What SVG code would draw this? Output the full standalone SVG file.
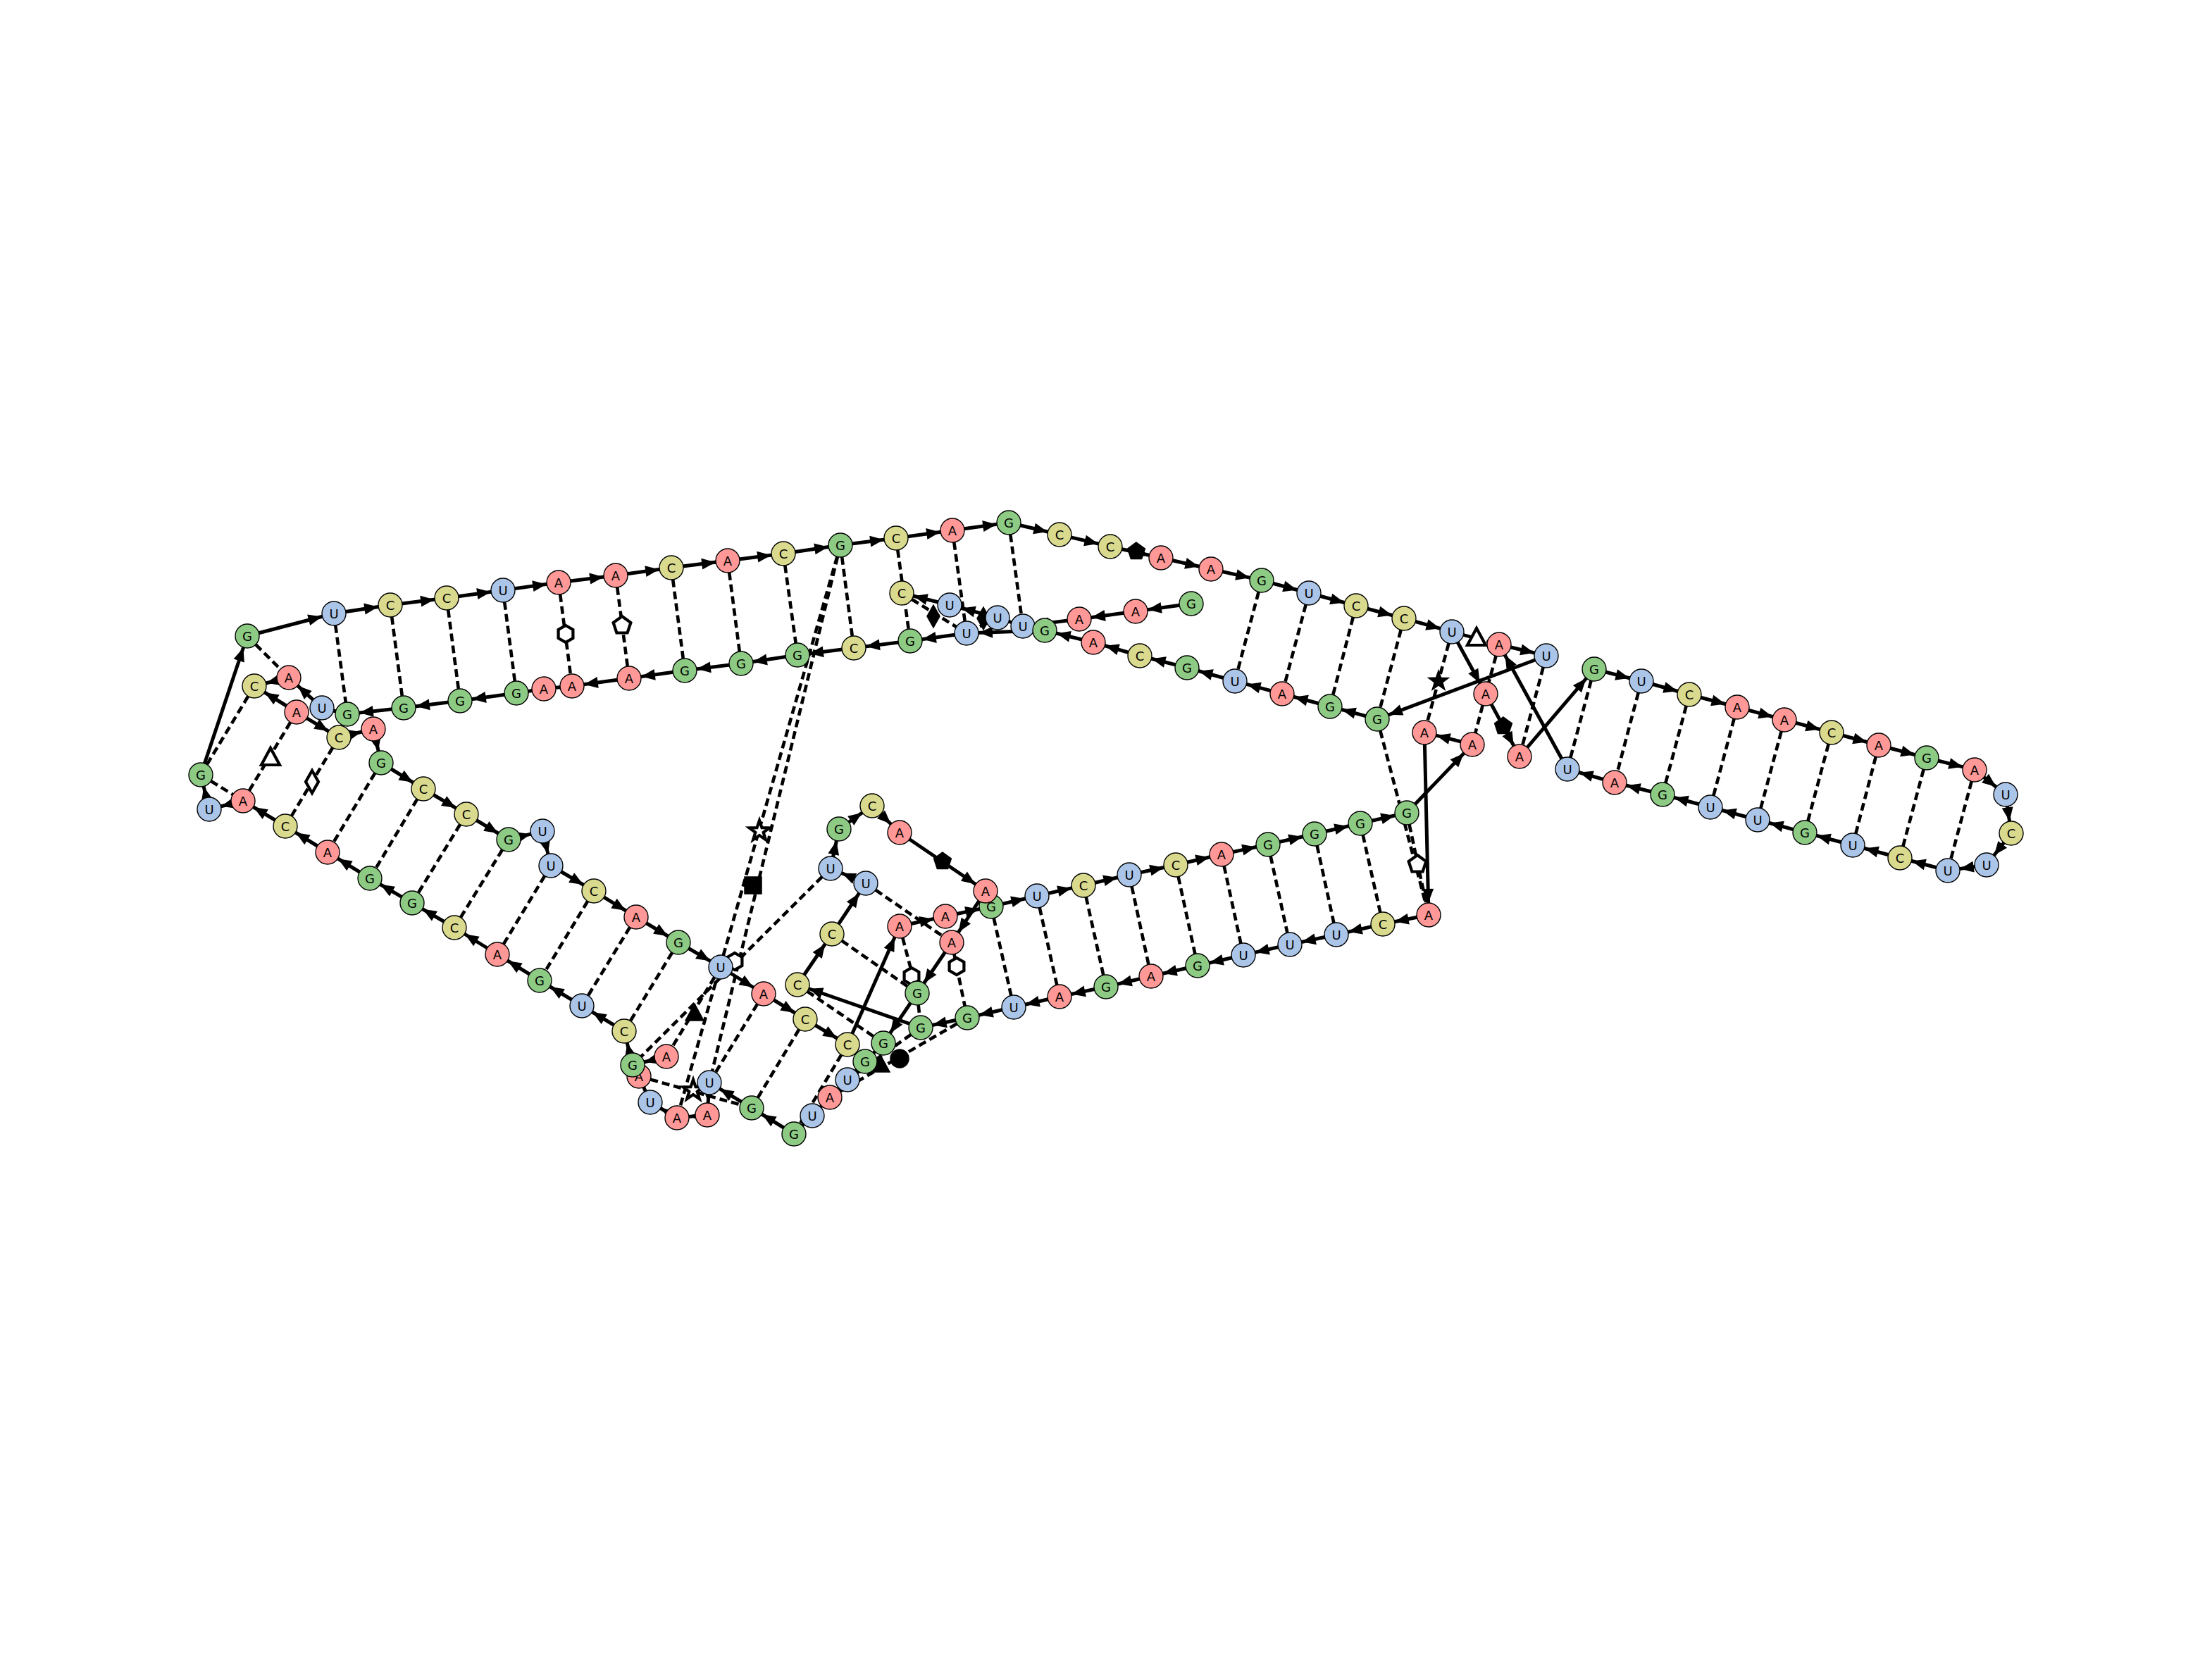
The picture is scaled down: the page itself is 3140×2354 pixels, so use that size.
<svg xmlns="http://www.w3.org/2000/svg" xmlns:xlink="http://www.w3.org/1999/xlink" width="3140" height="2354" viewBox="0 0 3140 2354">
<style>
.bb{stroke:#000;stroke-width:5;fill:none}
.bp{stroke:#000;stroke-width:4.6;stroke-dasharray:11 6;fill:none}
.open{fill:#fff;stroke:#000;stroke-width:4.2}
.solid{fill:#000;stroke:#000;stroke-width:1.5}
.node circle{stroke:#000;stroke-width:1.4}
.A circle{fill:#ff9896}
.C circle{fill:#dada8e}
.G circle{fill:#8dcb84}
.U circle{fill:#aac5e8}
.node text{font-family:"DejaVu Sans","Liberation Sans",sans-serif;font-size:18px;text-anchor:middle;dominant-baseline:central;fill:#000}
</style>
<defs>
<marker id="ah" markerUnits="userSpaceOnUse" markerWidth="60" markerHeight="30" viewBox="-50 -15 60 30" refX="0" refY="0" orient="auto" overflow="visible"><path d="M-37,-8 L-17.5,0 L-37,8 Z" fill="#000"/></marker>
<polygon id="hex" points="0,-12 10.4,-6 10.4,6 0,12 -10.4,6 -10.4,-6"/>
<polygon id="pent" points="0,-13 12.4,-4 7.6,10.5 -7.6,10.5 -12.4,-4"/>
<polygon id="tri" points="0,-15 13,9 -13,9"/>
<polygon id="dia" points="0,-16 9,0 0,16 -9,0"/>
<polygon id="star" points="0,-15 3.53,-4.85 14.27,-4.64 5.71,1.85 8.82,12.14 0,6 -8.82,12.14 -5.71,1.85 -14.27,-4.64 -3.53,-4.85"/>
<rect id="sq" x="-12" y="-12" width="24" height="24"/>
<circle id="dot" r="13"/>
</defs>
<rect width="3140" height="2354" fill="#fff"/>
<g id="connectors">
<g id="backbone">
<line class="bb" x1="351" y1="903" x2="474" y2="871" marker-end="url(#ah)"/>
<line class="bb" x1="474" y1="871" x2="554" y2="859" marker-end="url(#ah)"/>
<line class="bb" x1="554" y1="859" x2="634" y2="849" marker-end="url(#ah)"/>
<line class="bb" x1="634" y1="849" x2="714" y2="838" marker-end="url(#ah)"/>
<line class="bb" x1="714" y1="838" x2="793" y2="827" marker-end="url(#ah)"/>
<line class="bb" x1="793" y1="827" x2="874" y2="817" marker-end="url(#ah)"/>
<line class="bb" x1="874" y1="817" x2="953" y2="806" marker-end="url(#ah)"/>
<line class="bb" x1="953" y1="806" x2="1033" y2="796" marker-end="url(#ah)"/>
<line class="bb" x1="1033" y1="796" x2="1112" y2="786" marker-end="url(#ah)"/>
<line class="bb" x1="1112" y1="786" x2="1193" y2="774" marker-end="url(#ah)"/>
<line class="bb" x1="1193" y1="774" x2="1272" y2="764" marker-end="url(#ah)"/>
<line class="bb" x1="1272" y1="764" x2="1352" y2="753" marker-end="url(#ah)"/>
<line class="bb" x1="1352" y1="753" x2="1432" y2="742" marker-end="url(#ah)"/>
<line class="bb" x1="1432" y1="742" x2="1504" y2="759" marker-end="url(#ah)"/>
<line class="bb" x1="1504" y1="759" x2="1576" y2="776" marker-end="url(#ah)"/>
<line class="bb" x1="1576" y1="776" x2="1648" y2="792" marker-end="url(#ah)"/>
<line class="bb" x1="1648" y1="792" x2="1719" y2="808" marker-end="url(#ah)"/>
<line class="bb" x1="1719" y1="808" x2="1791" y2="824" marker-end="url(#ah)"/>
<line class="bb" x1="1791" y1="824" x2="1858" y2="842" marker-end="url(#ah)"/>
<line class="bb" x1="1858" y1="842" x2="1925" y2="860" marker-end="url(#ah)"/>
<line class="bb" x1="1925" y1="860" x2="1993" y2="878" marker-end="url(#ah)"/>
<line class="bb" x1="1993" y1="878" x2="2061" y2="897" marker-end="url(#ah)"/>
<line class="bb" x1="2061" y1="897" x2="2109" y2="985" marker-end="url(#ah)"/>
<line class="bb" x1="2109" y1="985" x2="2157" y2="1074" marker-end="url(#ah)"/>
<line class="bb" x1="2157" y1="1074" x2="2263" y2="950" marker-end="url(#ah)"/>
<line class="bb" x1="2263" y1="950" x2="2330" y2="967" marker-end="url(#ah)"/>
<line class="bb" x1="2330" y1="967" x2="2398" y2="986" marker-end="url(#ah)"/>
<line class="bb" x1="2398" y1="986" x2="2466" y2="1004" marker-end="url(#ah)"/>
<line class="bb" x1="2466" y1="1004" x2="2533" y2="1022" marker-end="url(#ah)"/>
<line class="bb" x1="2533" y1="1022" x2="2600" y2="1040" marker-end="url(#ah)"/>
<line class="bb" x1="2600" y1="1040" x2="2667" y2="1058" marker-end="url(#ah)"/>
<line class="bb" x1="2667" y1="1058" x2="2735" y2="1076" marker-end="url(#ah)"/>
<line class="bb" x1="2735" y1="1076" x2="2803" y2="1093" marker-end="url(#ah)"/>
<line class="bb" x1="2803" y1="1093" x2="2847" y2="1128" marker-end="url(#ah)"/>
<line class="bb" x1="2847" y1="1128" x2="2855" y2="1183" marker-end="url(#ah)"/>
<line class="bb" x1="2855" y1="1183" x2="2820" y2="1228" marker-end="url(#ah)"/>
<line class="bb" x1="2820" y1="1228" x2="2765" y2="1236" marker-end="url(#ah)"/>
<line class="bb" x1="2765" y1="1236" x2="2697" y2="1218" marker-end="url(#ah)"/>
<line class="bb" x1="2697" y1="1218" x2="2630" y2="1200" marker-end="url(#ah)"/>
<line class="bb" x1="2630" y1="1200" x2="2562" y2="1182" marker-end="url(#ah)"/>
<line class="bb" x1="2562" y1="1182" x2="2495" y2="1164" marker-end="url(#ah)"/>
<line class="bb" x1="2495" y1="1164" x2="2428" y2="1146" marker-end="url(#ah)"/>
<line class="bb" x1="2428" y1="1146" x2="2360" y2="1128" marker-end="url(#ah)"/>
<line class="bb" x1="2360" y1="1128" x2="2292" y2="1111" marker-end="url(#ah)"/>
<line class="bb" x1="2292" y1="1111" x2="2225" y2="1092" marker-end="url(#ah)"/>
<line class="bb" x1="2225" y1="1092" x2="2128" y2="915" marker-end="url(#ah)"/>
<line class="bb" x1="2128" y1="915" x2="2195" y2="931" marker-end="url(#ah)"/>
<line class="bb" x1="2195" y1="931" x2="1955" y2="1021" marker-end="url(#ah)"/>
<line class="bb" x1="1955" y1="1021" x2="1888" y2="1003" marker-end="url(#ah)"/>
<line class="bb" x1="1888" y1="1003" x2="1820" y2="985" marker-end="url(#ah)"/>
<line class="bb" x1="1820" y1="985" x2="1753" y2="967" marker-end="url(#ah)"/>
<line class="bb" x1="1753" y1="967" x2="1685" y2="948" marker-end="url(#ah)"/>
<line class="bb" x1="1685" y1="948" x2="1618" y2="931" marker-end="url(#ah)"/>
<line class="bb" x1="1618" y1="931" x2="1552" y2="912" marker-end="url(#ah)"/>
<line class="bb" x1="1552" y1="912" x2="1483" y2="895" marker-end="url(#ah)"/>
<line class="bb" x1="1483" y1="895" x2="1372" y2="899" marker-end="url(#ah)"/>
<line class="bb" x1="1372" y1="899" x2="1292" y2="910" marker-end="url(#ah)"/>
<line class="bb" x1="1292" y1="910" x2="1212" y2="920" marker-end="url(#ah)"/>
<line class="bb" x1="1212" y1="920" x2="1132" y2="930" marker-end="url(#ah)"/>
<line class="bb" x1="1132" y1="930" x2="1052" y2="942" marker-end="url(#ah)"/>
<line class="bb" x1="1052" y1="942" x2="972" y2="952" marker-end="url(#ah)"/>
<line class="bb" x1="972" y1="952" x2="893" y2="963" marker-end="url(#ah)"/>
<line class="bb" x1="893" y1="963" x2="812" y2="974" marker-end="url(#ah)"/>
<line class="bb" x1="812" y1="974" x2="772" y2="978" marker-end="url(#ah)"/>
<line class="bb" x1="772" y1="978" x2="733" y2="984" marker-end="url(#ah)"/>
<line class="bb" x1="733" y1="984" x2="653" y2="995" marker-end="url(#ah)"/>
<line class="bb" x1="653" y1="995" x2="573" y2="1005" marker-end="url(#ah)"/>
<line class="bb" x1="573" y1="1005" x2="493" y2="1014" marker-end="url(#ah)"/>
<line class="bb" x1="493" y1="1014" x2="457" y2="1005" marker-end="url(#ah)"/>
<line class="bb" x1="457" y1="1005" x2="410" y2="962" marker-end="url(#ah)"/>
<line class="bb" x1="410" y1="962" x2="361" y2="974" marker-end="url(#ah)"/>
<line class="bb" x1="421" y1="1011" x2="361" y2="974" marker-end="url(#ah)"/>
<line class="bb" x1="421" y1="1011" x2="481" y2="1047" marker-end="url(#ah)"/>
<line class="bb" x1="481" y1="1047" x2="530" y2="1035" marker-end="url(#ah)"/>
<line class="bb" x1="530" y1="1035" x2="541" y2="1083" marker-end="url(#ah)"/>
<line class="bb" x1="541" y1="1083" x2="601" y2="1120" marker-end="url(#ah)"/>
<line class="bb" x1="601" y1="1120" x2="662" y2="1156" marker-end="url(#ah)"/>
<line class="bb" x1="662" y1="1156" x2="722" y2="1192" marker-end="url(#ah)"/>
<line class="bb" x1="722" y1="1192" x2="770" y2="1180" marker-end="url(#ah)"/>
<line class="bb" x1="770" y1="1180" x2="782" y2="1229" marker-end="url(#ah)"/>
<line class="bb" x1="782" y1="1229" x2="843" y2="1265" marker-end="url(#ah)"/>
<line class="bb" x1="843" y1="1265" x2="903" y2="1302" marker-end="url(#ah)"/>
<line class="bb" x1="903" y1="1302" x2="963" y2="1338" marker-end="url(#ah)"/>
<line class="bb" x1="963" y1="1338" x2="1023" y2="1373" marker-end="url(#ah)"/>
<line class="bb" x1="1023" y1="1373" x2="1084" y2="1411" marker-end="url(#ah)"/>
<line class="bb" x1="1084" y1="1411" x2="1143" y2="1447" marker-end="url(#ah)"/>
<line class="bb" x1="1143" y1="1447" x2="1203" y2="1483" marker-end="url(#ah)"/>
<line class="bb" x1="1203" y1="1483" x2="1277" y2="1315" marker-end="url(#ah)"/>
<line class="bb" x1="1277" y1="1315" x2="1342" y2="1301" marker-end="url(#ah)"/>
<line class="bb" x1="1342" y1="1301" x2="1407" y2="1287" marker-end="url(#ah)"/>
<line class="bb" x1="1407" y1="1287" x2="1472" y2="1272" marker-end="url(#ah)"/>
<line class="bb" x1="1472" y1="1272" x2="1538" y2="1257" marker-end="url(#ah)"/>
<line class="bb" x1="1538" y1="1257" x2="1603" y2="1242" marker-end="url(#ah)"/>
<line class="bb" x1="1603" y1="1242" x2="1669" y2="1228" marker-end="url(#ah)"/>
<line class="bb" x1="1669" y1="1228" x2="1734" y2="1213" marker-end="url(#ah)"/>
<line class="bb" x1="1734" y1="1213" x2="1800" y2="1199" marker-end="url(#ah)"/>
<line class="bb" x1="1800" y1="1199" x2="1866" y2="1184" marker-end="url(#ah)"/>
<line class="bb" x1="1866" y1="1184" x2="1931" y2="1169" marker-end="url(#ah)"/>
<line class="bb" x1="1931" y1="1169" x2="1997" y2="1154" marker-end="url(#ah)"/>
<line class="bb" x1="1997" y1="1154" x2="2090" y2="1057" marker-end="url(#ah)"/>
<line class="bb" x1="2090" y1="1057" x2="2022" y2="1040" marker-end="url(#ah)"/>
<line class="bb" x1="2022" y1="1040" x2="2028" y2="1299" marker-end="url(#ah)"/>
<line class="bb" x1="2028" y1="1299" x2="1963" y2="1312" marker-end="url(#ah)"/>
<line class="bb" x1="1963" y1="1312" x2="1897" y2="1327" marker-end="url(#ah)"/>
<line class="bb" x1="1897" y1="1327" x2="1831" y2="1341" marker-end="url(#ah)"/>
<line class="bb" x1="1831" y1="1341" x2="1765" y2="1356" marker-end="url(#ah)"/>
<line class="bb" x1="1765" y1="1356" x2="1700" y2="1371" marker-end="url(#ah)"/>
<line class="bb" x1="1700" y1="1371" x2="1634" y2="1386" marker-end="url(#ah)"/>
<line class="bb" x1="1634" y1="1386" x2="1570" y2="1401" marker-end="url(#ah)"/>
<line class="bb" x1="1570" y1="1401" x2="1504" y2="1415" marker-end="url(#ah)"/>
<line class="bb" x1="1504" y1="1415" x2="1439" y2="1430" marker-end="url(#ah)"/>
<line class="bb" x1="1439" y1="1430" x2="1373" y2="1445" marker-end="url(#ah)"/>
<line class="bb" x1="1373" y1="1445" x2="1307" y2="1459" marker-end="url(#ah)"/>
<line class="bb" x1="1307" y1="1459" x2="1132" y2="1398" marker-end="url(#ah)"/>
<line class="bb" x1="1132" y1="1398" x2="1181" y2="1326" marker-end="url(#ah)"/>
<line class="bb" x1="1181" y1="1326" x2="1229" y2="1254" marker-end="url(#ah)"/>
<line class="bb" x1="1229" y1="1254" x2="1179" y2="1233" marker-end="url(#ah)"/>
<line class="bb" x1="1179" y1="1233" x2="1191" y2="1177" marker-end="url(#ah)"/>
<line class="bb" x1="1191" y1="1177" x2="1238" y2="1144" marker-end="url(#ah)"/>
<line class="bb" x1="1238" y1="1144" x2="1277" y2="1182" marker-end="url(#ah)"/>
<line class="bb" x1="1277" y1="1182" x2="1399" y2="1265" marker-end="url(#ah)"/>
<line class="bb" x1="1399" y1="1265" x2="1351" y2="1338" marker-end="url(#ah)"/>
<line class="bb" x1="1351" y1="1338" x2="1302" y2="1410" marker-end="url(#ah)"/>
<line class="bb" x1="1302" y1="1410" x2="1254" y2="1481" marker-end="url(#ah)"/>
<line class="bb" x1="1254" y1="1481" x2="1228" y2="1507" marker-end="url(#ah)"/>
<line class="bb" x1="1228" y1="1507" x2="1203" y2="1533" marker-end="url(#ah)"/>
<line class="bb" x1="1203" y1="1533" x2="1178" y2="1558" marker-end="url(#ah)"/>
<line class="bb" x1="1178" y1="1558" x2="1153" y2="1584" marker-end="url(#ah)"/>
<line class="bb" x1="1153" y1="1584" x2="1127" y2="1610" marker-end="url(#ah)"/>
<line class="bb" x1="1127" y1="1610" x2="1067" y2="1573" marker-end="url(#ah)"/>
<line class="bb" x1="1067" y1="1573" x2="1007" y2="1537" marker-end="url(#ah)"/>
<line class="bb" x1="1007" y1="1537" x2="1004" y2="1583" marker-end="url(#ah)"/>
<line class="bb" x1="1004" y1="1583" x2="961" y2="1587" marker-end="url(#ah)"/>
<line class="bb" x1="961" y1="1587" x2="923" y2="1565" marker-end="url(#ah)"/>
<line class="bb" x1="923" y1="1565" x2="907" y2="1528" marker-end="url(#ah)"/>
<line class="bb" x1="946" y1="1500" x2="898" y2="1512" marker-end="url(#ah)"/>
<line class="bb" x1="898" y1="1512" x2="886" y2="1464" marker-end="url(#ah)"/>
<line class="bb" x1="886" y1="1464" x2="826" y2="1428" marker-end="url(#ah)"/>
<line class="bb" x1="826" y1="1428" x2="766" y2="1392" marker-end="url(#ah)"/>
<line class="bb" x1="766" y1="1392" x2="706" y2="1355" marker-end="url(#ah)"/>
<line class="bb" x1="706" y1="1355" x2="645" y2="1317" marker-end="url(#ah)"/>
<line class="bb" x1="645" y1="1317" x2="585" y2="1282" marker-end="url(#ah)"/>
<line class="bb" x1="585" y1="1282" x2="525" y2="1247" marker-end="url(#ah)"/>
<line class="bb" x1="525" y1="1247" x2="465" y2="1210" marker-end="url(#ah)"/>
<line class="bb" x1="465" y1="1210" x2="405" y2="1173" marker-end="url(#ah)"/>
<line class="bb" x1="405" y1="1173" x2="345" y2="1137" marker-end="url(#ah)"/>
<line class="bb" x1="345" y1="1137" x2="297" y2="1149" marker-end="url(#ah)"/>
<line class="bb" x1="297" y1="1149" x2="285" y2="1100" marker-end="url(#ah)"/>
<line class="bb" x1="285" y1="1100" x2="351" y2="903" marker-end="url(#ah)"/>
<line class="bb" x1="1691" y1="857" x2="1612" y2="868" marker-end="url(#ah)"/>
<line class="bb" x1="1612" y1="868" x2="1532" y2="879" marker-end="url(#ah)"/>
<line class="bb" x1="1532" y1="879" x2="1452" y2="889" marker-end="url(#ah)"/>
<line class="bb" x1="1452" y1="889" x2="1416" y2="877" marker-end="url(#ah)"/>
<line class="bb" x1="1416" y1="877" x2="1348" y2="859" marker-end="url(#ah)"/>
<line class="bb" x1="1348" y1="859" x2="1280" y2="842" marker-end="url(#ah)"/>
</g>
<g id="pairs">
<line class="bp" x1="351" y1="903" x2="410" y2="962"/>
<line class="bp" x1="474" y1="871" x2="493" y2="1014"/>
<line class="bp" x1="554" y1="859" x2="573" y2="1005"/>
<line class="bp" x1="634" y1="849" x2="653" y2="995"/>
<line class="bp" x1="714" y1="838" x2="733" y2="984"/>
<line class="bp" x1="793" y1="827" x2="812" y2="974"/>
<line class="bp" x1="874" y1="817" x2="893" y2="963"/>
<line class="bp" x1="953" y1="806" x2="972" y2="952"/>
<line class="bp" x1="1033" y1="796" x2="1052" y2="942"/>
<line class="bp" x1="1112" y1="786" x2="1132" y2="930"/>
<line class="bp" x1="1193" y1="774" x2="1212" y2="920"/>
<line class="bp" x1="1272" y1="764" x2="1292" y2="910"/>
<line class="bp" x1="1352" y1="753" x2="1372" y2="899"/>
<line class="bp" x1="1432" y1="742" x2="1452" y2="889"/>
<line class="bp" x1="1791" y1="824" x2="1753" y2="967"/>
<line class="bp" x1="1858" y1="842" x2="1820" y2="985"/>
<line class="bp" x1="1925" y1="860" x2="1888" y2="1003"/>
<line class="bp" x1="1993" y1="878" x2="1955" y2="1021"/>
<line class="bp" x1="2061" y1="897" x2="2022" y2="1040"/>
<line class="bp" x1="2061" y1="897" x2="2128" y2="915"/>
<line class="bp" x1="2128" y1="915" x2="2109" y2="985"/>
<line class="bp" x1="2109" y1="985" x2="2090" y2="1057"/>
<line class="bp" x1="2195" y1="931" x2="2157" y2="1074"/>
<line class="bp" x1="2263" y1="950" x2="2225" y2="1092"/>
<line class="bp" x1="2330" y1="967" x2="2292" y2="1111"/>
<line class="bp" x1="2398" y1="986" x2="2360" y2="1128"/>
<line class="bp" x1="2466" y1="1004" x2="2428" y2="1146"/>
<line class="bp" x1="2533" y1="1022" x2="2495" y2="1164"/>
<line class="bp" x1="2600" y1="1040" x2="2562" y2="1182"/>
<line class="bp" x1="2667" y1="1058" x2="2630" y2="1200"/>
<line class="bp" x1="2735" y1="1076" x2="2697" y2="1218"/>
<line class="bp" x1="2803" y1="1093" x2="2765" y2="1236"/>
<line class="bp" x1="1407" y1="1287" x2="1439" y2="1430"/>
<line class="bp" x1="1472" y1="1272" x2="1504" y2="1415"/>
<line class="bp" x1="1538" y1="1257" x2="1570" y2="1401"/>
<line class="bp" x1="1603" y1="1242" x2="1634" y2="1386"/>
<line class="bp" x1="1669" y1="1228" x2="1700" y2="1371"/>
<line class="bp" x1="1734" y1="1213" x2="1765" y2="1356"/>
<line class="bp" x1="1800" y1="1199" x2="1831" y2="1341"/>
<line class="bp" x1="1866" y1="1184" x2="1897" y2="1327"/>
<line class="bp" x1="1931" y1="1169" x2="1963" y2="1312"/>
<line class="bp" x1="1997" y1="1154" x2="2028" y2="1299"/>
<line class="bp" x1="1955" y1="1021" x2="2028" y2="1299"/>
<line class="bp" x1="1179" y1="1233" x2="898" y2="1512"/>
<line class="bp" x1="1229" y1="1254" x2="1351" y2="1338"/>
<line class="bp" x1="1181" y1="1326" x2="1302" y2="1410"/>
<line class="bp" x1="1277" y1="1315" x2="1302" y2="1410"/>
<line class="bp" x1="1351" y1="1338" x2="1373" y2="1445"/>
<line class="bp" x1="1302" y1="1410" x2="1307" y2="1459"/>
<line class="bp" x1="1132" y1="1398" x2="1254" y2="1481"/>
<line class="bp" x1="1373" y1="1445" x2="1178" y2="1558"/>
<line class="bp" x1="1307" y1="1459" x2="1203" y2="1533"/>
<line class="bp" x1="421" y1="1011" x2="345" y2="1137"/>
<line class="bp" x1="481" y1="1047" x2="405" y2="1173"/>
<line class="bp" x1="541" y1="1083" x2="465" y2="1210"/>
<line class="bp" x1="601" y1="1120" x2="525" y2="1247"/>
<line class="bp" x1="662" y1="1156" x2="585" y2="1282"/>
<line class="bp" x1="722" y1="1192" x2="645" y2="1317"/>
<line class="bp" x1="782" y1="1229" x2="706" y2="1355"/>
<line class="bp" x1="843" y1="1265" x2="766" y2="1392"/>
<line class="bp" x1="903" y1="1302" x2="826" y2="1428"/>
<line class="bp" x1="963" y1="1338" x2="886" y2="1464"/>
<line class="bp" x1="1023" y1="1373" x2="946" y2="1500"/>
<line class="bp" x1="1084" y1="1411" x2="1007" y2="1537"/>
<line class="bp" x1="1143" y1="1447" x2="1067" y2="1573"/>
<line class="bp" x1="1203" y1="1483" x2="1127" y2="1610"/>
<line class="bp" x1="361" y1="974" x2="285" y2="1100"/>
<line class="bp" x1="285" y1="1100" x2="345" y2="1137"/>
<line class="bp" x1="410" y1="962" x2="457" y2="1005"/>
<line class="bp" x1="1193" y1="774" x2="961" y2="1587"/>
<line class="bp" x1="1193" y1="774" x2="1007" y2="1537"/>
<line class="bp" x1="907" y1="1528" x2="1067" y2="1573"/>
<line class="bp" x1="1280" y1="842" x2="1372" y2="899"/>
<line class="bp" x1="1416" y1="877" x2="1372" y2="899"/>
</g>
<g id="edge-symbols">
<use href="#hex" x="803" y="900" class="open"/>
<use href="#pent" x="883" y="888" class="open"/>
<use href="#pent" x="1613" y="783" class="solid"/>
<use href="#dia" x="1325" y="875" class="solid"/>
<use href="#dia" x="1396" y="878" class="solid"/>
<use href="#tri" x="2096" y="907" class="open"/>
<use href="#star" x="2042" y="967" class="solid"/>
<use href="#pent" x="2134" y="1031" class="solid"/>
<use href="#pent" x="2012" y="1227" class="open"/>
<use href="#tri" x="384" y="1077" class="open"/>
<use href="#dia" x="443" y="1110" class="open"/>
<use href="#star" x="1078" y="1180" class="open"/>
<use href="#sq" x="1069" y="1257" class="solid"/>
<use href="#tri" x="986" y="1440" class="solid"/>
<use href="#hex" x="1043" y="1365" class="open"/>
<use href="#pent" x="1338" y="1223" class="solid"/>
<use href="#hex" x="1294" y="1386" class="open"/>
<use href="#hex" x="1358" y="1372" class="open"/>
<use href="#dot" x="1277" y="1503" class="solid"/>
<use href="#tri" x="1250" y="1513" class="solid"/>
<use href="#star" x="984" y="1548" class="open"/>
</g>
</g>
<g id="nodes">
<g id="t1" class="node G"><circle cx="351" cy="903" r="17"/><text x="351" y="903">G</text></g>
<g id="t2" class="node U"><circle cx="474" cy="871" r="17"/><text x="474" y="871">U</text></g>
<g id="t3" class="node C"><circle cx="554" cy="859" r="17"/><text x="554" y="859">C</text></g>
<g id="t4" class="node C"><circle cx="634" cy="849" r="17"/><text x="634" y="849">C</text></g>
<g id="t5" class="node U"><circle cx="714" cy="838" r="17"/><text x="714" y="838">U</text></g>
<g id="t6" class="node A"><circle cx="793" cy="827" r="17"/><text x="793" y="827">A</text></g>
<g id="t7" class="node A"><circle cx="874" cy="817" r="17"/><text x="874" y="817">A</text></g>
<g id="t8" class="node C"><circle cx="953" cy="806" r="17"/><text x="953" y="806">C</text></g>
<g id="t9" class="node A"><circle cx="1033" cy="796" r="17"/><text x="1033" y="796">A</text></g>
<g id="t10" class="node C"><circle cx="1112" cy="786" r="17"/><text x="1112" y="786">C</text></g>
<g id="t11" class="node G"><circle cx="1193" cy="774" r="17"/><text x="1193" y="774">G</text></g>
<g id="t12" class="node C"><circle cx="1272" cy="764" r="17"/><text x="1272" y="764">C</text></g>
<g id="t13" class="node A"><circle cx="1352" cy="753" r="17"/><text x="1352" y="753">A</text></g>
<g id="t14" class="node G"><circle cx="1432" cy="742" r="17"/><text x="1432" y="742">G</text></g>
<g id="t15" class="node C"><circle cx="1504" cy="759" r="17"/><text x="1504" y="759">C</text></g>
<g id="t16" class="node C"><circle cx="1576" cy="776" r="17"/><text x="1576" y="776">C</text></g>
<g id="t17" class="node A"><circle cx="1648" cy="792" r="17"/><text x="1648" y="792">A</text></g>
<g id="t18" class="node A"><circle cx="1719" cy="808" r="17"/><text x="1719" y="808">A</text></g>
<g id="t19" class="node G"><circle cx="1791" cy="824" r="17"/><text x="1791" y="824">G</text></g>
<g id="t20" class="node U"><circle cx="1858" cy="842" r="17"/><text x="1858" y="842">U</text></g>
<g id="t21" class="node C"><circle cx="1925" cy="860" r="17"/><text x="1925" y="860">C</text></g>
<g id="t22" class="node C"><circle cx="1993" cy="878" r="17"/><text x="1993" y="878">C</text></g>
<g id="t23" class="node U"><circle cx="2061" cy="897" r="17"/><text x="2061" y="897">U</text></g>
<g id="t24" class="node A"><circle cx="2109" cy="985" r="17"/><text x="2109" y="985">A</text></g>
<g id="t25" class="node A"><circle cx="2157" cy="1074" r="17"/><text x="2157" y="1074">A</text></g>
<g id="r1" class="node G"><circle cx="2263" cy="950" r="17"/><text x="2263" y="950">G</text></g>
<g id="r2" class="node U"><circle cx="2330" cy="967" r="17"/><text x="2330" y="967">U</text></g>
<g id="r3" class="node C"><circle cx="2398" cy="986" r="17"/><text x="2398" y="986">C</text></g>
<g id="r4" class="node A"><circle cx="2466" cy="1004" r="17"/><text x="2466" y="1004">A</text></g>
<g id="r5" class="node A"><circle cx="2533" cy="1022" r="17"/><text x="2533" y="1022">A</text></g>
<g id="r6" class="node C"><circle cx="2600" cy="1040" r="17"/><text x="2600" y="1040">C</text></g>
<g id="r7" class="node A"><circle cx="2667" cy="1058" r="17"/><text x="2667" y="1058">A</text></g>
<g id="r8" class="node G"><circle cx="2735" cy="1076" r="17"/><text x="2735" y="1076">G</text></g>
<g id="r9" class="node A"><circle cx="2803" cy="1093" r="17"/><text x="2803" y="1093">A</text></g>
<g id="r10" class="node U"><circle cx="2847" cy="1128" r="17"/><text x="2847" y="1128">U</text></g>
<g id="r11" class="node C"><circle cx="2855" cy="1183" r="17"/><text x="2855" y="1183">C</text></g>
<g id="r12" class="node U"><circle cx="2820" cy="1228" r="17"/><text x="2820" y="1228">U</text></g>
<g id="r13" class="node U"><circle cx="2765" cy="1236" r="17"/><text x="2765" y="1236">U</text></g>
<g id="r14" class="node C"><circle cx="2697" cy="1218" r="17"/><text x="2697" y="1218">C</text></g>
<g id="r15" class="node U"><circle cx="2630" cy="1200" r="17"/><text x="2630" y="1200">U</text></g>
<g id="r16" class="node G"><circle cx="2562" cy="1182" r="17"/><text x="2562" y="1182">G</text></g>
<g id="r17" class="node U"><circle cx="2495" cy="1164" r="17"/><text x="2495" y="1164">U</text></g>
<g id="r18" class="node U"><circle cx="2428" cy="1146" r="17"/><text x="2428" y="1146">U</text></g>
<g id="r19" class="node G"><circle cx="2360" cy="1128" r="17"/><text x="2360" y="1128">G</text></g>
<g id="r20" class="node A"><circle cx="2292" cy="1111" r="17"/><text x="2292" y="1111">A</text></g>
<g id="r21" class="node U"><circle cx="2225" cy="1092" r="17"/><text x="2225" y="1092">U</text></g>
<g id="b1" class="node A"><circle cx="2128" cy="915" r="17"/><text x="2128" y="915">A</text></g>
<g id="b2" class="node U"><circle cx="2195" cy="931" r="17"/><text x="2195" y="931">U</text></g>
<g id="c1" class="node G"><circle cx="1691" cy="857" r="17"/><text x="1691" y="857">G</text></g>
<g id="c2" class="node A"><circle cx="1612" cy="868" r="17"/><text x="1612" y="868">A</text></g>
<g id="c3" class="node A"><circle cx="1532" cy="879" r="17"/><text x="1532" y="879">A</text></g>
<g id="c7" class="node C"><circle cx="1280" cy="842" r="17"/><text x="1280" y="842">C</text></g>
<g id="c6" class="node U"><circle cx="1348" cy="859" r="17"/><text x="1348" y="859">U</text></g>
<g id="c5" class="node U"><circle cx="1416" cy="877" r="17"/><text x="1416" y="877">U</text></g>
<g id="c4" class="node U"><circle cx="1452" cy="889" r="17"/><text x="1452" y="889">U</text></g>
<g id="l1" class="node G"><circle cx="1955" cy="1021" r="17"/><text x="1955" y="1021">G</text></g>
<g id="l2" class="node G"><circle cx="1888" cy="1003" r="17"/><text x="1888" y="1003">G</text></g>
<g id="l3" class="node A"><circle cx="1820" cy="985" r="17"/><text x="1820" y="985">A</text></g>
<g id="l4" class="node U"><circle cx="1753" cy="967" r="17"/><text x="1753" y="967">U</text></g>
<g id="l5" class="node G"><circle cx="1685" cy="948" r="17"/><text x="1685" y="948">G</text></g>
<g id="l6" class="node C"><circle cx="1618" cy="931" r="17"/><text x="1618" y="931">C</text></g>
<g id="l7" class="node A"><circle cx="1552" cy="912" r="17"/><text x="1552" y="912">A</text></g>
<g id="l8" class="node G"><circle cx="1483" cy="895" r="17"/><text x="1483" y="895">G</text></g>
<g id="l9" class="node U"><circle cx="1372" cy="899" r="17"/><text x="1372" y="899">U</text></g>
<g id="l10" class="node G"><circle cx="1292" cy="910" r="17"/><text x="1292" y="910">G</text></g>
<g id="l11" class="node C"><circle cx="1212" cy="920" r="17"/><text x="1212" y="920">C</text></g>
<g id="l12" class="node G"><circle cx="1132" cy="930" r="17"/><text x="1132" y="930">G</text></g>
<g id="l13" class="node G"><circle cx="1052" cy="942" r="17"/><text x="1052" y="942">G</text></g>
<g id="l14" class="node G"><circle cx="972" cy="952" r="17"/><text x="972" y="952">G</text></g>
<g id="l15" class="node A"><circle cx="893" cy="963" r="17"/><text x="893" y="963">A</text></g>
<g id="l16" class="node A"><circle cx="812" cy="974" r="17"/><text x="812" y="974">A</text></g>
<g id="l17" class="node A"><circle cx="772" cy="978" r="17"/><text x="772" y="978">A</text></g>
<g id="l18" class="node G"><circle cx="733" cy="984" r="17"/><text x="733" y="984">G</text></g>
<g id="l19" class="node G"><circle cx="653" cy="995" r="17"/><text x="653" y="995">G</text></g>
<g id="l20" class="node G"><circle cx="573" cy="1005" r="17"/><text x="573" y="1005">G</text></g>
<g id="k4" class="node C"><circle cx="361" cy="974" r="17"/><text x="361" y="974">C</text></g>
<g id="k2" class="node A"><circle cx="410" cy="962" r="17"/><text x="410" y="962">A</text></g>
<g id="k3" class="node A"><circle cx="421" cy="1011" r="17"/><text x="421" y="1011">A</text></g>
<g id="k1" class="node U"><circle cx="457" cy="1005" r="17"/><text x="457" y="1005">U</text></g>
<g id="l21" class="node G"><circle cx="493" cy="1014" r="17"/><text x="493" y="1014">G</text></g>
<g id="k5" class="node C"><circle cx="481" cy="1047" r="17"/><text x="481" y="1047">C</text></g>
<g id="h1" class="node A"><circle cx="530" cy="1035" r="17"/><text x="530" y="1035">A</text></g>
<g id="h2" class="node G"><circle cx="541" cy="1083" r="17"/><text x="541" y="1083">G</text></g>
<g id="h3" class="node C"><circle cx="601" cy="1120" r="17"/><text x="601" y="1120">C</text></g>
<g id="h4" class="node C"><circle cx="662" cy="1156" r="17"/><text x="662" y="1156">C</text></g>
<g id="h5" class="node G"><circle cx="722" cy="1192" r="17"/><text x="722" y="1192">G</text></g>
<g id="h6" class="node U"><circle cx="770" cy="1180" r="17"/><text x="770" y="1180">U</text></g>
<g id="h7" class="node U"><circle cx="782" cy="1229" r="17"/><text x="782" y="1229">U</text></g>
<g id="h8" class="node C"><circle cx="843" cy="1265" r="17"/><text x="843" y="1265">C</text></g>
<g id="h9" class="node A"><circle cx="903" cy="1302" r="17"/><text x="903" y="1302">A</text></g>
<g id="h10" class="node G"><circle cx="963" cy="1338" r="17"/><text x="963" y="1338">G</text></g>
<g id="h11" class="node U"><circle cx="1023" cy="1373" r="17"/><text x="1023" y="1373">U</text></g>
<g id="h12" class="node A"><circle cx="1084" cy="1411" r="17"/><text x="1084" y="1411">A</text></g>
<g id="h13" class="node C"><circle cx="1143" cy="1447" r="17"/><text x="1143" y="1447">C</text></g>
<g id="h14" class="node C"><circle cx="1203" cy="1483" r="17"/><text x="1203" y="1483">C</text></g>
<g id="m1" class="node A"><circle cx="1277" cy="1315" r="17"/><text x="1277" y="1315">A</text></g>
<g id="m2" class="node A"><circle cx="1342" cy="1301" r="17"/><text x="1342" y="1301">A</text></g>
<g id="m3" class="node G"><circle cx="1407" cy="1287" r="17"/><text x="1407" y="1287">G</text></g>
<g id="m4" class="node U"><circle cx="1472" cy="1272" r="17"/><text x="1472" y="1272">U</text></g>
<g id="m5" class="node C"><circle cx="1538" cy="1257" r="17"/><text x="1538" y="1257">C</text></g>
<g id="m6" class="node U"><circle cx="1603" cy="1242" r="17"/><text x="1603" y="1242">U</text></g>
<g id="m7" class="node C"><circle cx="1669" cy="1228" r="17"/><text x="1669" y="1228">C</text></g>
<g id="m8" class="node A"><circle cx="1734" cy="1213" r="17"/><text x="1734" y="1213">A</text></g>
<g id="m9" class="node G"><circle cx="1800" cy="1199" r="17"/><text x="1800" y="1199">G</text></g>
<g id="m10" class="node G"><circle cx="1866" cy="1184" r="17"/><text x="1866" y="1184">G</text></g>
<g id="m11" class="node G"><circle cx="1931" cy="1169" r="17"/><text x="1931" y="1169">G</text></g>
<g id="m12" class="node G"><circle cx="1997" cy="1154" r="17"/><text x="1997" y="1154">G</text></g>
<g id="m13" class="node A"><circle cx="2090" cy="1057" r="17"/><text x="2090" y="1057">A</text></g>
<g id="m14" class="node A"><circle cx="2022" cy="1040" r="17"/><text x="2022" y="1040">A</text></g>
<g id="m15" class="node A"><circle cx="2028" cy="1299" r="17"/><text x="2028" y="1299">A</text></g>
<g id="m16" class="node C"><circle cx="1963" cy="1312" r="17"/><text x="1963" y="1312">C</text></g>
<g id="m17" class="node U"><circle cx="1897" cy="1327" r="17"/><text x="1897" y="1327">U</text></g>
<g id="m18" class="node U"><circle cx="1831" cy="1341" r="17"/><text x="1831" y="1341">U</text></g>
<g id="m19" class="node U"><circle cx="1765" cy="1356" r="17"/><text x="1765" y="1356">U</text></g>
<g id="m20" class="node G"><circle cx="1700" cy="1371" r="17"/><text x="1700" y="1371">G</text></g>
<g id="m21" class="node A"><circle cx="1634" cy="1386" r="17"/><text x="1634" y="1386">A</text></g>
<g id="m22" class="node G"><circle cx="1570" cy="1401" r="17"/><text x="1570" y="1401">G</text></g>
<g id="m23" class="node A"><circle cx="1504" cy="1415" r="17"/><text x="1504" y="1415">A</text></g>
<g id="m24" class="node U"><circle cx="1439" cy="1430" r="17"/><text x="1439" y="1430">U</text></g>
<g id="m25" class="node G"><circle cx="1373" cy="1445" r="17"/><text x="1373" y="1445">G</text></g>
<g id="m26" class="node G"><circle cx="1307" cy="1459" r="17"/><text x="1307" y="1459">G</text></g>
<g id="p1" class="node C"><circle cx="1132" cy="1398" r="17"/><text x="1132" y="1398">C</text></g>
<g id="p2" class="node C"><circle cx="1181" cy="1326" r="17"/><text x="1181" y="1326">C</text></g>
<g id="p3" class="node U"><circle cx="1229" cy="1254" r="17"/><text x="1229" y="1254">U</text></g>
<g id="p4" class="node U"><circle cx="1179" cy="1233" r="17"/><text x="1179" y="1233">U</text></g>
<g id="p5" class="node G"><circle cx="1191" cy="1177" r="17"/><text x="1191" y="1177">G</text></g>
<g id="p6" class="node C"><circle cx="1238" cy="1144" r="17"/><text x="1238" y="1144">C</text></g>
<g id="p7" class="node A"><circle cx="1277" cy="1182" r="17"/><text x="1277" y="1182">A</text></g>
<g id="p8" class="node A"><circle cx="1399" cy="1265" r="17"/><text x="1399" y="1265">A</text></g>
<g id="p9" class="node A"><circle cx="1351" cy="1338" r="17"/><text x="1351" y="1338">A</text></g>
<g id="p10" class="node G"><circle cx="1302" cy="1410" r="17"/><text x="1302" y="1410">G</text></g>
<g id="p11" class="node G"><circle cx="1254" cy="1481" r="17"/><text x="1254" y="1481">G</text></g>
<g id="p16" class="node G"><circle cx="1127" cy="1610" r="17"/><text x="1127" y="1610">G</text></g>
<g id="p15" class="node U"><circle cx="1153" cy="1584" r="17"/><text x="1153" y="1584">U</text></g>
<g id="p14" class="node A"><circle cx="1178" cy="1558" r="17"/><text x="1178" y="1558">A</text></g>
<g id="p13" class="node U"><circle cx="1203" cy="1533" r="17"/><text x="1203" y="1533">U</text></g>
<g id="p12" class="node G"><circle cx="1228" cy="1507" r="17"/><text x="1228" y="1507">G</text></g>
<g id="p17" class="node G"><circle cx="1067" cy="1573" r="17"/><text x="1067" y="1573">G</text></g>
<g id="p18" class="node U"><circle cx="1007" cy="1537" r="17"/><text x="1007" y="1537">U</text></g>
<g id="p19" class="node A"><circle cx="1004" cy="1583" r="17"/><text x="1004" y="1583">A</text></g>
<g id="p20" class="node A"><circle cx="961" cy="1587" r="17"/><text x="961" y="1587">A</text></g>
<g id="p21" class="node U"><circle cx="923" cy="1565" r="17"/><text x="923" y="1565">U</text></g>
<g id="p22" class="node A"><circle cx="907" cy="1528" r="17"/><text x="907" y="1528">A</text></g>
<g id="q1" class="node A"><circle cx="946" cy="1500" r="17"/><text x="946" y="1500">A</text></g>
<g id="q2" class="node G"><circle cx="898" cy="1512" r="17"/><text x="898" y="1512">G</text></g>
<g id="q3" class="node C"><circle cx="886" cy="1464" r="17"/><text x="886" y="1464">C</text></g>
<g id="q4" class="node U"><circle cx="826" cy="1428" r="17"/><text x="826" y="1428">U</text></g>
<g id="q5" class="node G"><circle cx="766" cy="1392" r="17"/><text x="766" y="1392">G</text></g>
<g id="q6" class="node A"><circle cx="706" cy="1355" r="17"/><text x="706" y="1355">A</text></g>
<g id="q7" class="node C"><circle cx="645" cy="1317" r="17"/><text x="645" y="1317">C</text></g>
<g id="q8" class="node G"><circle cx="585" cy="1282" r="17"/><text x="585" y="1282">G</text></g>
<g id="q9" class="node G"><circle cx="525" cy="1247" r="17"/><text x="525" y="1247">G</text></g>
<g id="q10" class="node A"><circle cx="465" cy="1210" r="17"/><text x="465" y="1210">A</text></g>
<g id="q11" class="node C"><circle cx="405" cy="1173" r="17"/><text x="405" y="1173">C</text></g>
<g id="q12" class="node A"><circle cx="345" cy="1137" r="17"/><text x="345" y="1137">A</text></g>
<g id="q13" class="node U"><circle cx="297" cy="1149" r="17"/><text x="297" y="1149">U</text></g>
<g id="q14" class="node G"><circle cx="285" cy="1100" r="17"/><text x="285" y="1100">G</text></g>
</g>
</svg>
